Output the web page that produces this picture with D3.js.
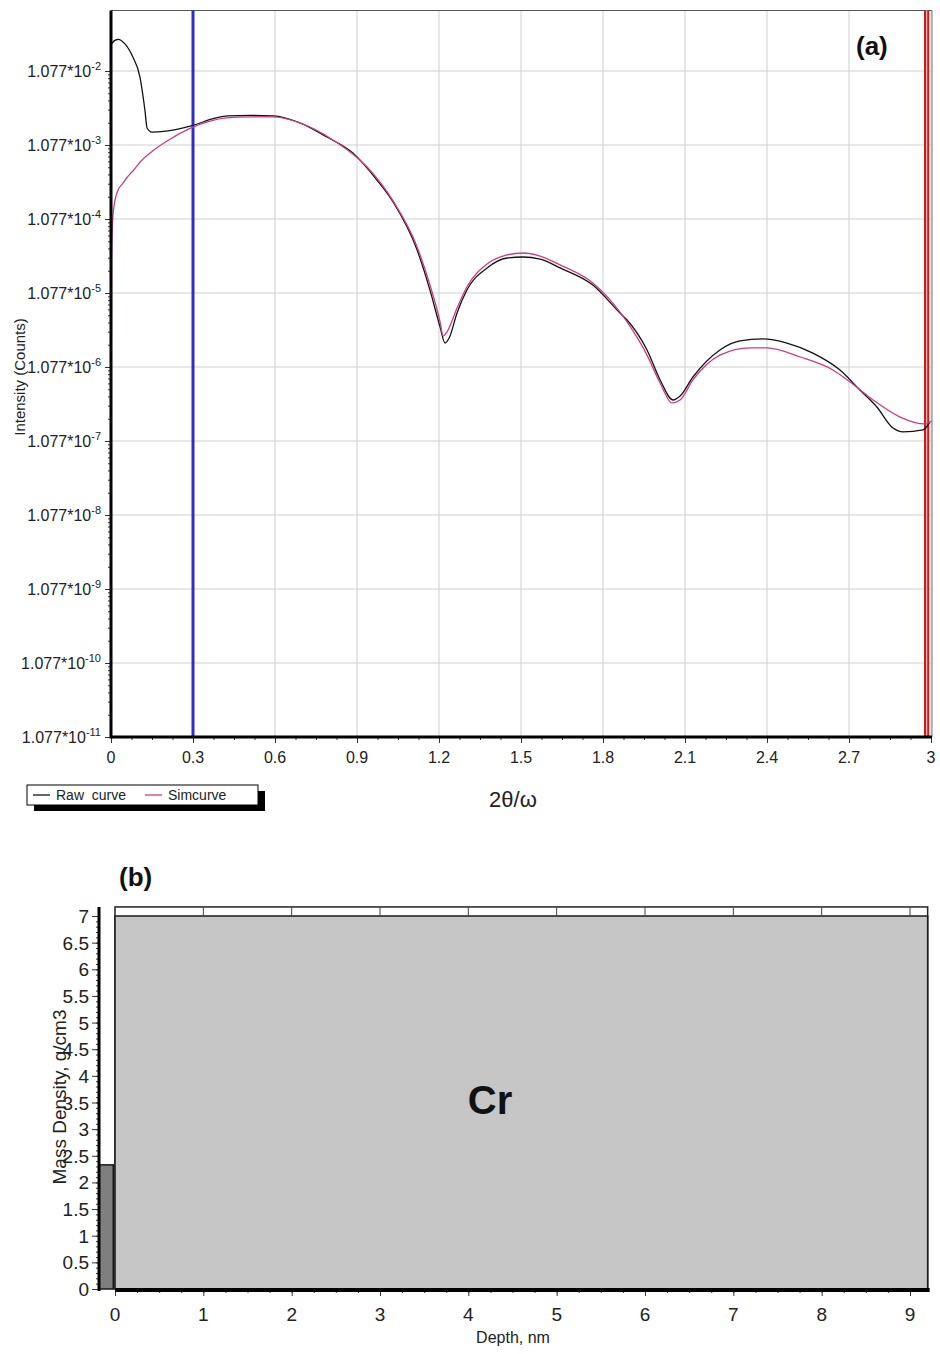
<!DOCTYPE html>
<html>
<head>
<meta charset="utf-8">
<script src="https://cdnjs.cloudflare.com/ajax/libs/d3/7.8.5/d3.min.js"></script>
<style>
  body { margin: 0; background: #fff; }
  svg { display: block; font-family: "Liberation Sans", Arial, Helvetica, sans-serif; }
</style>
</head>
<body>
<div id="chart"></div>
<script>
// ---- (a) reflectivity: [2theta/omega, intensity counts]
var rawCurve = [
  [0.000, 2.40e-2], [0.003, 2.55e-2], [0.026, 2.88e-2], [0.051, 2.50e-2], [0.080, 1.66e-2],
  [0.106, 8.93e-3], [0.124, 3.20e-3], [0.132, 1.83e-3], [0.150, 1.61e-3], [0.201, 1.66e-3],
  [0.245, 1.77e-3], [0.293, 1.95e-3], [0.384, 2.50e-3], [0.428, 2.66e-3], [0.509, 2.70e-3],
  [0.593, 2.66e-3], [0.691, 2.14e-3], [0.790, 1.38e-3], [0.885, 8.40e-4], [0.973, 3.62e-4],
  [1.032, 1.83e-4], [1.120, 4.10e-5], [1.167, 1.18e-5], [1.204, 3.74e-6], [1.222, 2.27e-6],
  [1.237, 2.65e-6], [1.266, 5.78e-6], [1.302, 1.18e-5], [1.376, 2.35e-5], [1.449, 3.20e-5],
  [1.507, 3.30e-5], [1.570, 3.10e-5], [1.643, 2.35e-5], [1.763, 1.38e-5], [1.862, 5.78e-6],
  [1.888, 4.65e-6], [1.961, 1.83e-6], [2.009, 7.19e-7], [2.056, 3.86e-7], [2.082, 4.37e-7],
  [2.129, 7.89e-7], [2.228, 1.83e-6], [2.301, 2.42e-6], [2.385, 2.58e-6], [2.473, 2.27e-6],
  [2.568, 1.66e-6], [2.667, 9.81e-7], [2.740, 5.26e-7], [2.802, 3.10e-7], [2.861, 1.61e-7],
  [2.898, 1.43e-7], [2.971, 1.52e-7], [2.996, 1.95e-7]
];
var simCurve = [
  [0.000, 3.4e-9], [0.002, 3.0e-5], [0.006, 1.04e-4], [0.015, 1.95e-4], [0.026, 2.65e-4],
  [0.044, 3.30e-4], [0.060, 3.98e-4], [0.080, 4.80e-4], [0.110, 6.55e-4], [0.143, 8.40e-4],
  [0.205, 1.22e-3], [0.293, 1.83e-3],
  [0.362, 2.27e-3], [0.424, 2.50e-3], [0.509, 2.58e-3], [0.593, 2.58e-3], [0.691, 2.14e-3],
  [0.812, 1.26e-3], [0.937, 5.43e-4], [1.032, 1.89e-4], [1.120, 4.51e-5], [1.167, 1.38e-5],
  [1.204, 4.37e-6], [1.215, 2.82e-6], [1.229, 3.20e-6], [1.266, 6.75e-6], [1.302, 1.30e-5],
  [1.376, 2.65e-5], [1.449, 3.52e-5], [1.507, 3.74e-5], [1.570, 3.40e-5], [1.643, 2.58e-5],
  [1.763, 1.47e-5], [1.862, 5.96e-6], [1.888, 4.37e-6], [1.961, 1.56e-6], [2.009, 6.55e-7],
  [2.052, 3.52e-7], [2.082, 3.86e-7], [2.129, 7.19e-7], [2.228, 1.56e-6], [2.338, 1.95e-6],
  [2.400, 1.95e-6], [2.521, 1.47e-6], [2.641, 9.81e-7], [2.704, 6.76e-7], [2.788, 3.86e-7],
  [2.887, 2.27e-7], [2.978, 1.83e-7], [3.003, 2.01e-7]
];
var angleTicks = [0, 0.3, 0.6, 0.9, 1.2, 1.5, 1.8, 2.1, 2.4, 2.7, 3];
var decadeExp = [-2, -3, -4, -5, -6, -7, -8, -9, -10, -11];
var mantissa = 1.077;
var blueMarker = 0.3;
var redMarker = [2.978, 2.990];
var legendNames = ["Raw  curve", "Simcurve"];

// ---- (b) density profile
var layerName = ["", "Cr"];
var layerStart = [-0.18, 0];
var layerEnd = [-0.02, 9.2];
var layerDensity = [2.33, 7.0];
var depthTicks = [0, 1, 2, 3, 4, 5, 6, 7, 8, 9];
var densityTicks = [0, 0.5, 1, 1.5, 2, 2.5, 3, 3.5, 4, 4.5, 5, 5.5, 6, 6.5, 7];

var svg = d3.select("#chart").append("svg")
    .attr("width", 940)
    .attr("height", 1354);

// ================= chart (a) =================
var leftA = 111, rightA = 932, topA = 10.5, bottomA = 737;

var x = d3.scaleLinear().domain([0, 3]).range([111, 931]);
var y = d3.scaleLog().domain([mantissa * 1e-11, mantissa * 1e-2]).range([737, 71]);

var decades = decadeExp.map(function(e) { return mantissa * Math.pow(10, e); });
var minorY = [];
decadeExp.slice(0, -1).forEach(function(e) {
    for (var k = 2; k < 10; k++) minorY.push(mantissa * k * Math.pow(10, e - 1));
});
var minorX = d3.range(0, 3.0001, 0.075);

var ga = svg.append("g");

// grid
ga.selectAll(".vgrid")
    .data(angleTicks.slice(1))
    .enter().append("line")
    .attr("x1", function(d) { return x(d); })
    .attr("x2", function(d) { return x(d); })
    .attr("y1", topA).attr("y2", bottomA)
    .style("stroke", "#cfcfcf").style("stroke-width", 1);

ga.selectAll(".hgrid")
    .data(decades.slice(0, -1))
    .enter().append("line")
    .attr("x1", leftA).attr("x2", rightA)
    .attr("y1", function(d) { return y(d); })
    .attr("y2", function(d) { return y(d); })
    .style("stroke", "#cfcfcf").style("stroke-width", 1);

// frame top + right
ga.append("line").attr("x1", leftA).attr("x2", rightA).attr("y1", topA).attr("y2", topA)
    .style("stroke", "#555").style("stroke-width", 1.2);
ga.append("line").attr("x1", rightA).attr("x2", rightA).attr("y1", topA).attr("y2", bottomA)
    .style("stroke", "#888").style("stroke-width", 1.2);

// markers
ga.append("rect")
    .attr("x", x(redMarker[0])).attr("y", topA)
    .attr("width", x(redMarker[1]) - x(redMarker[0]))
    .attr("height", bottomA - topA)
    .style("fill", "#eab0b0");
ga.selectAll(".red")
    .data(redMarker)
    .enter().append("line")
    .attr("x1", function(d) { return x(d); })
    .attr("x2", function(d) { return x(d); })
    .attr("y1", topA).attr("y2", bottomA)
    .style("stroke", "#c41e1e").style("stroke-width", 2);
ga.append("line")
    .attr("x1", x(blueMarker)).attr("x2", x(blueMarker))
    .attr("y1", topA).attr("y2", bottomA)
    .style("stroke", "#2d2dc8").style("stroke-width", 3);

// curves
svg.append("clipPath").attr("id", "clipA")
  .append("rect").attr("x", leftA).attr("y", topA)
    .attr("width", rightA - leftA + 2).attr("height", bottomA - topA);

var line = d3.line()
    .x(function(d) { return x(d[0]); })
    .y(function(d) { return y(d[1]); })
    .curve(d3.curveMonotoneX);

ga.append("path")
    .datum(rawCurve)
    .attr("clip-path", "url(#clipA)")
    .attr("d", line)
    .style("fill", "none").style("stroke", "#111").style("stroke-width", 1.3);

ga.append("path")
    .datum(simCurve)
    .attr("clip-path", "url(#clipA)")
    .attr("d", line)
    .style("fill", "none").style("stroke", "#cc3d85").style("stroke-width", 1.3);

// axes ticks
var axY = ga.append("g").attr("transform", "translate(" + leftA + ",0)");
axY.call(d3.axisLeft(y).tickValues(minorY).tickSize(3).tickFormat(""));
axY.append("g").call(d3.axisLeft(y).tickValues(decades).tickSize(6).tickFormat(""));
axY.selectAll(".domain").remove();

var axX = ga.append("g").attr("transform", "translate(0," + bottomA + ")");
axX.call(d3.axisBottom(x).tickValues(minorX).tickSize(3).tickFormat(""));
axX.append("g").call(d3.axisBottom(x).tickValues(angleTicks).tickSize(6).tickFormat(""));
axX.selectAll(".domain").remove();
ga.selectAll(".tick line").style("stroke", "#333");

ga.append("line").attr("x1", leftA).attr("x2", leftA).attr("y1", topA).attr("y2", bottomA + 1.5)
    .style("stroke", "#000").style("stroke-width", 3);
ga.append("line").attr("x1", leftA).attr("x2", rightA).attr("y1", bottomA).attr("y2", bottomA)
    .style("stroke", "#000").style("stroke-width", 3);

// y labels 1.077*10^n
var yl = ga.selectAll(".ylab")
    .data(decadeExp)
    .enter().append("text")
    .attr("x", 101)
    .attr("y", function(d) { return y(mantissa * Math.pow(10, d)) + 6; })
    .attr("text-anchor", "end")
    .style("font-size", "16px")
    .style("fill", "#222");
yl.append("tspan").text("1.077*10");
yl.append("tspan")
    .attr("dy", -7)
    .style("font-size", "11px")
    .text(function(d) { return d; });

ga.selectAll(".xlab")
    .data(angleTicks)
    .enter().append("text")
    .attr("x", function(d) { return x(d); })
    .attr("y", 763)
    .attr("text-anchor", "middle")
    .style("font-size", "16px")
    .style("fill", "#222")
    .text(function(d) { return d; });

ga.append("text")
    .attr("transform", "translate(25,377) rotate(-90)")
    .attr("text-anchor", "middle")
    .style("font-size", "15px")
    .style("fill", "#222")
    .text("Intensity (Counts)");

ga.append("text")
    .attr("x", 513).attr("y", 807)
    .attr("text-anchor", "middle")
    .style("font-size", "22px")
    .style("fill", "#222")
    .text("2θ/ω");

ga.append("text")
    .attr("x", 856).attr("y", 55)
    .style("font-size", "26px").style("font-weight", "bold")
    .style("fill", "#111")
    .text("(a)");

// legend
var lg = ga.append("g");
lg.append("rect").attr("x", 34).attr("y", 791).attr("width", 231).attr("height", 20).style("fill", "#000");
lg.append("rect").attr("x", 27).attr("y", 785).attr("width", 231).attr("height", 20)
    .style("fill", "#fff").style("stroke", "#000").style("stroke-width", 1);
var legendColors = ["#111", "#cc3d85"];
var legendX = [33, 145];
lg.selectAll(".lgl")
    .data(legendNames)
    .enter().append("line")
    .attr("x1", function(d, i) { return legendX[i]; })
    .attr("x2", function(d, i) { return legendX[i] + 17; })
    .attr("y1", 795).attr("y2", 795)
    .style("stroke", function(d, i) { return legendColors[i]; })
    .style("stroke-width", 1.3);
lg.selectAll(".lgt")
    .data(legendNames)
    .enter().append("text")
    .attr("x", function(d, i) { return legendX[i] + 23; })
    .attr("y", 800)
    .style("font-size", "14px")
    .style("white-space", "pre")
    .attr("xml:space", "preserve")
    .style("fill", "#222")
    .text(function(d) { return d; });

// ================= chart (b) =================
var xd = d3.scaleLinear().domain([0, 9]).range([115, 910]);
var yd = d3.scaleLinear().domain([0, 7]).range([1289, 916]);
var gb = svg.append("g");
var topB = yd(7.17), axisLeftX = 99;

// outer strip frame
gb.append("rect")
    .attr("x", xd(0)).attr("y", topB)
    .attr("width", xd(layerEnd[1]) - xd(0))
    .attr("height", yd(0) - topB)
    .style("fill", "#fff").style("stroke", "#222").style("stroke-width", 1.5);

var layerFill = ["#7f7f7f", "#c6c6c6"];
gb.selectAll(".layer")
    .data(layerDensity)
    .enter().append("rect")
    .attr("x", function(d, i) { return xd(layerStart[i]); })
    .attr("y", function(d) { return yd(d); })
    .attr("width", function(d, i) { return xd(layerEnd[i]) - xd(layerStart[i]); })
    .attr("height", function(d) { return yd(0) - yd(d); })
    .style("fill", function(d, i) { return layerFill[i]; })
    .style("stroke", "#1a1a1a").style("stroke-width", 1.5);

// top ticks inside strip
gb.selectAll(".ttick")
    .data(depthTicks.slice(1))
    .enter().append("line")
    .attr("x1", function(d) { return xd(d); })
    .attr("x2", function(d) { return xd(d); })
    .attr("y1", topB).attr("y2", yd(7))
    .style("stroke", "#444").style("stroke-width", 1);

var axYb = gb.append("g").attr("transform", "translate(" + axisLeftX + ",0)");
axYb.call(d3.axisLeft(yd).tickValues(d3.range(0, 7.001, 0.1)).tickSize(3).tickFormat(""));
axYb.append("g").call(d3.axisLeft(yd).tickValues(densityTicks).tickSize(7).tickFormat(""));
axYb.selectAll(".domain").remove();

var axXb = gb.append("g").attr("transform", "translate(0," + yd(0) + ")");
axXb.call(d3.axisBottom(xd).tickValues(d3.range(0, 9.001, 0.25)).tickSize(4).tickFormat(""));
axXb.append("g").call(d3.axisBottom(xd).tickValues(depthTicks).tickSize(7).tickFormat(""));
axXb.selectAll(".domain").remove();
gb.selectAll(".tick line").style("stroke", "#333");

gb.append("line").attr("x1", axisLeftX).attr("x2", axisLeftX).attr("y1", topB).attr("y2", yd(0) + 2)
    .style("stroke", "#000").style("stroke-width", 3);
gb.append("line").attr("x1", xd(0)).attr("x2", xd(layerEnd[1]) + 2).attr("y1", yd(0) + 1).attr("y2", yd(0) + 1)
    .style("stroke", "#000").style("stroke-width", 4);

gb.selectAll(".ylabb")
    .data(densityTicks)
    .enter().append("text")
    .attr("x", 89)
    .attr("y", function(d) { return yd(d) + 7; })
    .attr("text-anchor", "end")
    .style("font-size", "19px")
    .style("fill", "#222")
    .text(function(d) { return d; });

gb.selectAll(".xlabb")
    .data(depthTicks)
    .enter().append("text")
    .attr("x", function(d) { return xd(d); })
    .attr("y", 1321)
    .attr("text-anchor", "middle")
    .style("font-size", "19px")
    .style("fill", "#222")
    .text(function(d) { return d; });

gb.append("text")
    .attr("transform", "translate(66,1097) rotate(-90)")
    .attr("text-anchor", "middle")
    .style("font-size", "19px")
    .style("fill", "#222")
    .text("Mass Density, g/cm3");

gb.append("text")
    .attr("x", 513).attr("y", 1343)
    .attr("text-anchor", "middle")
    .style("font-size", "16px")
    .style("fill", "#222")
    .text("Depth, nm");

gb.append("text")
    .attr("x", 119).attr("y", 886)
    .style("font-size", "26px").style("font-weight", "bold")
    .style("fill", "#111")
    .text("(b)");

gb.selectAll(".lname")
    .data(layerName)
    .enter().append("text")
    .attr("x", function(d, i) { return i === 1 ? 490 : xd((layerStart[i] + layerEnd[i]) / 2); })
    .attr("y", 1114)
    .attr("text-anchor", "middle")
    .style("font-size", "40px").style("font-weight", "bold")
    .style("fill", "#111")
    .text(function(d) { return d; });
</script>
</body>
</html>
